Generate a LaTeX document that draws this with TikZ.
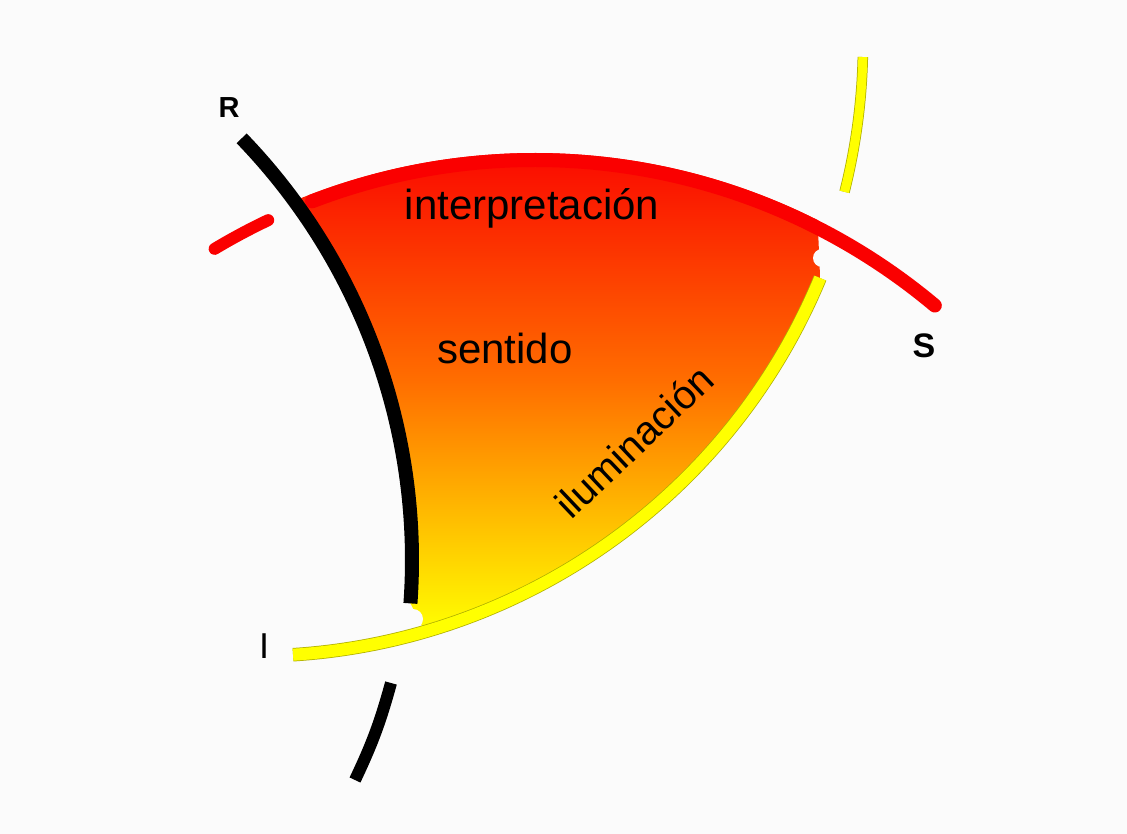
\documentclass[tikz,border=0pt]{standalone}
\usepackage{fontspec}
\setmainfont{Liberation Sans}
\usetikzlibrary{calc}
\definecolor{bg}{RGB}{251,251,251}
\definecolor{rd}{RGB}{250,0,0}
\definecolor{yl}{RGB}{255,255,0}
\definecolor{yledge}{RGB}{175,175,0}
\begin{document}
\begin{tikzpicture}[x=1pt,y=1pt,
  bigtext/.style={font=\fontsize{42}{50}\selectfont, inner sep=0pt, anchor=base, text=black},
  letter/.style={inner sep=0pt, anchor=base, text=black},
  redline/.style={draw=rd, line cap=round},
  yelline/.style={draw=yl},
  yeledge/.style={draw=yledge},
  blackline/.style={draw=black}]
\fill[bg] (0,0) rectangle (1127,-834);
\useasboundingbox (0,0) rectangle (1127,-834);
\coordinate (Rc) at (535,-782);
\coordinate (Yc) at (254,-43);
\coordinate (Bc) at (-195,-560);
% gradient region
\shade[top color=rd, bottom color=yl, middle color={rgb,255:red,255;green,110;blue,0}]
  ($(Rc)+(112:629pt)$) arc[start angle=112, end angle=63.3, radius=629pt]
  -- ($(Yc)+(-22.55:613pt)$) arc[start angle=-22.55, end angle=-73.8, radius=613pt]
  -- ($(Bc)+(-4.1:607pt)$) arc[start angle=-4.1, end angle=36, radius=607pt]
  -- cycle;
% notches
\fill[bg] (822,-258) circle (9pt);
\fill[bg] (413,-619) circle (10pt);
% red arc
\draw[redline, line width=14pt] ($(Rc)+(111:622pt)$) arc[start angle=111, end angle=50, radius=622pt];
\draw[redline, line width=12pt] ($(Rc)+(121:622pt)$) arc[start angle=121, end angle=115.4, radius=622pt];
% yellow arc
\draw[yeledge, line width=13.5pt] ($(Yc)+(-22.55:613pt)$) arc[start angle=-22.55, end angle=-86.35, radius=613pt];
\draw[yelline, line width=12pt] ($(Yc)+(-22.55:613pt)$) arc[start angle=-22.55, end angle=-86.35, radius=613pt];
\draw[yeledge, line width=10.5pt] ($(Yc)+(-14.15:609pt)$) arc[start angle=-14.15, end angle=-1.32, radius=609pt];
\draw[yelline, line width=9pt] ($(Yc)+(-14.15:609pt)$) arc[start angle=-14.15, end angle=-1.32, radius=609pt];
% black arc
\draw[blackline, line width=14pt] ($(Bc)+(44:607pt)$) arc[start angle=44, end angle=-4.1, radius=607pt];
\draw[blackline, line width=12pt] (391,-683) to[bend left=5] (355,-780);
% labels
\node[letter, font=\bfseries\fontsize{29}{30}\selectfont] (lblR) at (229,-118) {R};
\node[letter, font=\bfseries\fontsize{34}{36}\selectfont] (lblS) at (924,-357) {S};
\node[letter, font=\fontsize{36}{40}\selectfont] (lblI) at (264,-658) {I};
\node[bigtext] (tInterp) at (532,-220) {interpretación};
\node[bigtext] (tSentido) at (505,-363) {sentido};
\node[bigtext, font=\fontsize{40}{48}\selectfont, rotate=43.5] (tIlum) at (644,-452) {iluminación};
\end{tikzpicture}
\end{document}
